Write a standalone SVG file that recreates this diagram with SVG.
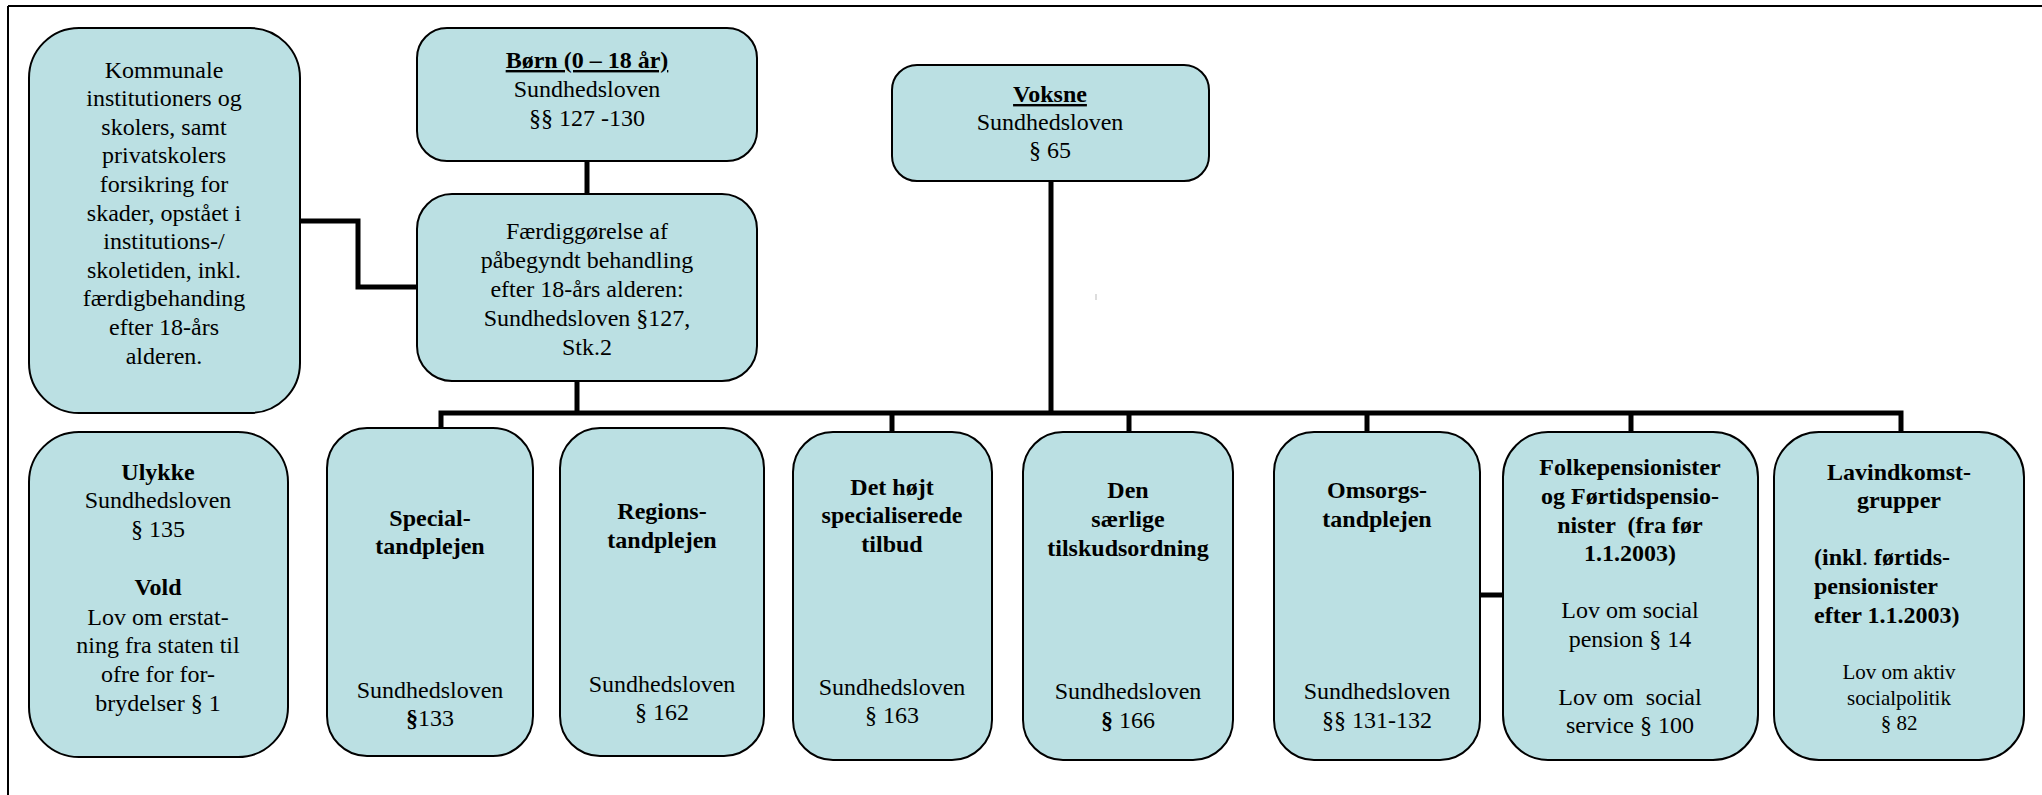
<svg xmlns="http://www.w3.org/2000/svg" width="2042" height="795" viewBox="0 0 2042 795" font-family="Liberation Serif, DejaVu Serif, serif">
<style>
.box{fill:#BBE0E3;stroke:#000;stroke-width:2}
.con{fill:none;stroke:#000;stroke-width:5}
.t{font-family:'Liberation Serif','DejaVu Serif',serif;font-size:24px;fill:#000;text-anchor:middle}
.b{font-weight:bold}
.u{text-decoration:underline}
.s{font-size:21px}
.l{text-anchor:start}
</style>
<rect x="0" y="0" width="2042" height="795" fill="#fff"/>
<g id="frame">
<line x1="8" y1="6" x2="2042" y2="6" stroke="#000" stroke-width="2"/>
<line x1="8" y1="6" x2="8" y2="795" stroke="#000" stroke-width="2"/>
<line x1="1096" y1="294" x2="1096" y2="300" stroke="#bbb" stroke-width="1"/>
</g>
<g id="connectors">
<path class="con" d="M300,221 H358 V287 H417"/>
<path class="con" d="M587,161 V194"/>
<path class="con" d="M577,381 V413"/>
<path class="con" d="M1051,181 V413"/>
<path class="con" d="M441,428 V413 H1901 V432"/>
<path class="con" d="M892,413 V432"/>
<path class="con" d="M1129,413 V432"/>
<path class="con" d="M1367,413 V432"/>
<path class="con" d="M1631,413 V432"/>
<path class="con" d="M1480,595 H1503"/>
</g>
<g id="kommunale" class="t">
<rect class="box" x="29" y="28" width="271" height="385" rx="50"/>
<text x="164" y="78">Kommunale</text>
<text x="164" y="106">institutioners og</text>
<text x="164" y="135">skolers, samt</text>
<text x="164" y="163">privatskolers</text>
<text x="164" y="192">forsikring for</text>
<text x="164" y="221">skader, opstået i</text>
<text x="164" y="249">institutions-/</text>
<text x="164" y="278">skoletiden, inkl.</text>
<text x="164" y="306">færdigbehanding</text>
<text x="164" y="335">efter 18-års</text>
<text x="164" y="364">alderen.</text>
</g>
<g id="born" class="t">
<rect class="box" x="417" y="28" width="340" height="133" rx="30"/>
<text x="587" y="68" class="b u">Børn (0 – 18 år)</text>
<text x="587" y="97">Sundhedsloven</text>
<text x="587" y="126">§§ 127 -130</text>
</g>
<g id="faerdig" class="t">
<rect class="box" x="417" y="194" width="340" height="187" rx="35"/>
<text x="587" y="239">Færdiggørelse af</text>
<text x="587" y="268">påbegyndt behandling</text>
<text x="587" y="297">efter 18-års alderen:</text>
<text x="587" y="326">Sundhedsloven §127,</text>
<text x="587" y="355">Stk.2</text>
</g>
<g id="voksne" class="t">
<rect class="box" x="892" y="65" width="317" height="116" rx="25"/>
<text x="1050" y="102" class="b u">Voksne</text>
<text x="1050" y="130">Sundhedsloven</text>
<text x="1050" y="158">§ 65</text>
</g>
<g id="ulykke" class="t">
<rect class="box" x="29" y="432" width="259" height="325" rx="50"/>
<text x="158" y="480" class="b">Ulykke</text>
<text x="158" y="508">Sundhedsloven</text>
<text x="158" y="537">§ 135</text>
<text x="158" y="595" class="b">Vold</text>
<text x="158" y="625">Lov om erstat-</text>
<text x="158" y="653">ning fra staten til</text>
<text x="158" y="682">ofre for for-</text>
<text x="158" y="711">brydelser § 1</text>
</g>
<g id="special" class="t">
<rect class="box" x="327" y="428" width="206" height="328" rx="40"/>
<text x="430" y="526" class="b">Special-</text>
<text x="430" y="554" class="b">tandplejen</text>
<text x="430" y="698">Sundhedsloven</text>
<text x="430" y="726"><tspan class="b">§</tspan>133</text>
</g>
<g id="regions" class="t">
<rect class="box" x="560" y="428" width="204" height="328" rx="40"/>
<text x="662" y="519" class="b">Regions-</text>
<text x="662" y="548" class="b">tandplejen</text>
<text x="662" y="692">Sundhedsloven</text>
<text x="662" y="720">§ 162</text>
</g>
<g id="hojt" class="t">
<rect class="box" x="793" y="432" width="199" height="328" rx="40"/>
<text x="892" y="495" class="b">Det højt</text>
<text x="892" y="523" class="b">specialiserede</text>
<text x="892" y="552" class="b">tilbud</text>
<text x="892" y="695">Sundhedsloven</text>
<text x="892" y="723">§ 163</text>
</g>
<g id="saerlige" class="t">
<rect class="box" x="1023" y="432" width="210" height="328" rx="40"/>
<text x="1128" y="498" class="b">Den</text>
<text x="1128" y="527" class="b">særlige</text>
<text x="1128" y="556" class="b">tilskudsordning</text>
<text x="1128" y="699">Sundhedsloven</text>
<text x="1128" y="728"><tspan class="b">§</tspan> 166</text>
</g>
<g id="omsorgs" class="t">
<rect class="box" x="1274" y="432" width="206" height="328" rx="40"/>
<text x="1377" y="498" class="b">Omsorgs-</text>
<text x="1377" y="527" class="b">tandplejen</text>
<text x="1377" y="699">Sundhedsloven</text>
<text x="1377" y="728">§§ 131-132</text>
</g>
<g id="folke" class="t">
<rect class="box" x="1503" y="432" width="255" height="328" rx="45"/>
<text x="1630" y="475" class="b">Folkepensionister</text>
<text x="1630" y="504" class="b">og Førtidspensio-</text>
<text x="1630" y="533" class="b" xml:space="preserve">nister  (fra før</text>
<text x="1630" y="561" class="b">1.1.2003)</text>
<text x="1630" y="618">Lov om social</text>
<text x="1630" y="647">pension § 14</text>
<text x="1630" y="705" xml:space="preserve">Lov om  social</text>
<text x="1630" y="733">service § 100</text>
</g>
<g id="lavind" class="t">
<rect class="box" x="1774" y="432" width="250" height="328" rx="45"/>
<text x="1899" y="480" class="b">Lavindkomst-</text>
<text x="1899" y="508" class="b">grupper</text>
<text x="1814" y="565" class="b l">(inkl<tspan font-weight="normal">.</tspan> førtids-</text>
<text x="1814" y="594" class="b l">pensionister</text>
<text x="1814" y="623" class="b l">efter 1.1.2003)</text>
<text x="1899" y="679" class="s">Lov om aktiv</text>
<text x="1899" y="705" class="s">socialpolitik</text>
<text x="1899" y="730" class="s">§ 82</text>
</g>
</svg>
